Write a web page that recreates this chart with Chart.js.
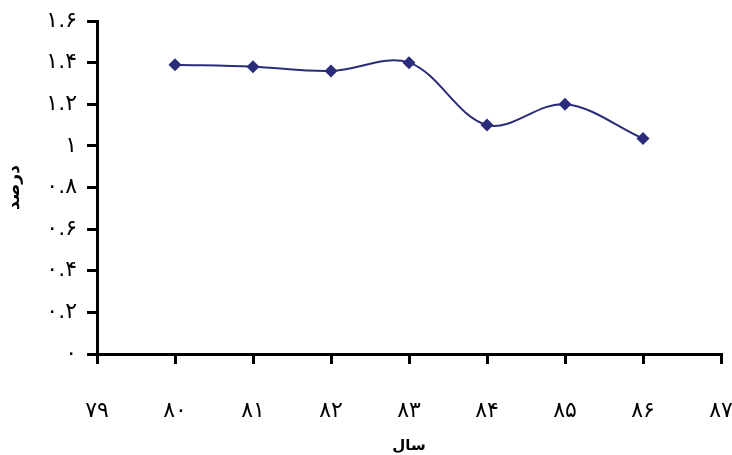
<!DOCTYPE html>
<html>
<head>
<meta charset="utf-8">
<script src="https://cdn.jsdelivr.net/npm/chart.js@4/dist/chart.umd.min.js"></script>
<style>
  html, body { margin: 0; padding: 0; background: #fff; }
  #wrap { width: 732px; height: 455px; position: relative; }
</style>
</head>
<body>
<div id="wrap"><canvas id="chart"></canvas></div>
<script>
// years (Persian calendar, last two digits) and percentage values
var years = [80, 81, 82, 83, 84, 85, 86];
var percent = [1.39, 1.38, 1.36, 1.40, 1.10, 1.20, 1.035];

var xTicks = [79, 80, 81, 82, 83, 84, 85, 86, 87];
var xTickLabels = ['۷۹', '۸۰', '۸۱', '۸۲', '۸۳', '۸۴', '۸۵', '۸۶', '۸۷'];
var yTicks = [0, 0.2, 0.4, 0.6, 0.8, 1, 1.2, 1.4, 1.6];
var yTickLabels = ['۰', '۰.۲', '۰.۴', '۰.۶', '۰.۸', '۱', '۱.۲', '۱.۴', '۱.۶'];

var points = [];
for (var i = 0; i < years.length; i++) {
  points.push({ x: years[i], y: percent[i] });
}

function labelFor(v, ticks, labels) {
  for (var k = 0; k < ticks.length; k++) {
    if (Math.abs(ticks[k] - v) < 1e-6) return labels[k];
  }
  return '';
}

var navy = '#2a2c7a';

new Chart(document.getElementById('chart').getContext('2d'), {
  type: 'line',
  data: {
    datasets: [{
      label: 'درصد',
      data: points,
      borderColor: navy,
      backgroundColor: navy,
      borderWidth: 2,
      tension: 0.35,
      pointStyle: 'rectRot',
      pointRadius: 6.5,
      pointHoverRadius: 6.5,
      pointBorderWidth: 0,
      fill: false
    }]
  },
  options: {
    responsive: true,
    maintainAspectRatio: false,
    animation: false,
    layout: { padding: { top: 21, left: 0, right: 0, bottom: 0 } },
    plugins: {
      legend: { display: false },
      tooltip: { enabled: false }
    },
    scales: {
      x: {
        type: 'linear',
        min: 79,
        max: 87,
        afterBuildTicks: function (scale) {
          scale.ticks = xTicks.map(function (v) { return { value: v }; });
        },
        afterFit: function (scale) {
          scale.height = 101;
          scale.paddingLeft = 0;
          scale.paddingRight = 11;
        },
        border: { color: '#000', width: 3 },
        grid: {
          drawOnChartArea: false,
          drawTicks: true,
          tickLength: 10,
          color: '#000',
          lineWidth: 3
        },
        ticks: {
          padding: 34,
          maxRotation: 0,
          autoSkip: false,
          color: '#000',
          font: { family: 'DejaVu Sans', size: 22 },
          callback: function (v) { return labelFor(v, xTicks, xTickLabels); }
        },
        title: {
          display: true,
          text: 'سال',
          color: '#000',
          padding: { top: 8, bottom: 0 },
          font: { family: 'DejaVu Sans', size: 15, weight: 'bold' }
        }
      },
      y: {
        min: 0,
        max: 1.6,
        afterBuildTicks: function (scale) {
          scale.ticks = yTicks.map(function (v) { return { value: v }; });
        },
        afterFit: function (scale) {
          scale.width = 97;
          scale.paddingTop = 0;
          scale.paddingBottom = 0;
        },
        border: { color: '#000', width: 3 },
        grid: {
          drawOnChartArea: false,
          drawTicks: true,
          tickLength: 10,
          color: '#000',
          lineWidth: 3
        },
        ticks: {
          padding: 10,
          color: '#000',
          font: { family: 'DejaVu Sans', size: 22 },
          callback: function (v) { return labelFor(v, yTicks, yTickLabels); }
        },
        title: {
          display: true,
          text: 'درصد',
          color: '#000',
          padding: { top: 4, bottom: 8 },
          font: { family: 'DejaVu Sans', size: 17, weight: 'bold' }
        }
      }
    }
  }
});
</script>
</body>
</html>
